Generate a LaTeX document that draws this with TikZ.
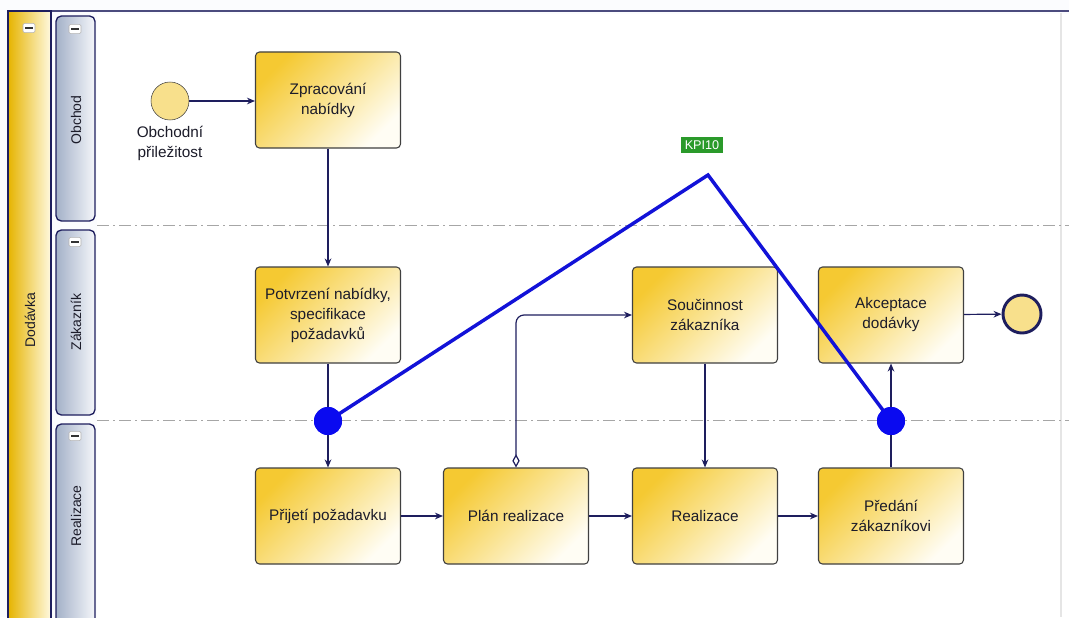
\documentclass[tikz,border=0pt]{standalone}
\usepackage{fontspec}
\setmainfont{Liberation Sans}
\usetikzlibrary{arrows.meta,shapes.geometric}
\definecolor{navy}{HTML}{1E1E5E}
\definecolor{taskgold}{HTML}{F5C932}
\definecolor{taskmid}{HTML}{FAE391}
\definecolor{taskwhite}{HTML}{FFFDF4}
\definecolor{poolgold}{HTML}{E6B400}
\definecolor{poolwhite}{HTML}{FFF9E0}
\definecolor{lanedark}{HTML}{A4B1C8}
\definecolor{lanelight}{HTML}{F4F6FA}
\definecolor{bgc}{HTML}{FBFCFE}
\definecolor{kpiblue}{HTML}{1212D8}
\definecolor{dotblue}{HTML}{0A0AF0}
\definecolor{kpigreen}{HTML}{2A9A2A}
\definecolor{txt}{HTML}{1C1C2A}
\definecolor{evfill}{HTML}{F8E08C}
\begin{document}
\begin{tikzpicture}[x=0.75pt,y=-0.75pt,
  task/.style={rectangle, rounded corners=3pt, draw=black!75, line width=0.8pt,
    minimum width=108.75pt, minimum height=72pt, align=center, inner sep=2pt,
    top color=taskgold, bottom color=taskwhite, middle color=taskmid, shading angle=45,
    font=\fontsize{11.5}{15}\selectfont, text=txt},
  lanehead/.style={draw=navy, line width=1pt, rounded corners=4pt,
    left color=lanedark, right color=lanelight},
  lanetext/.style={rotate=90, font=\fontsize{10.5}{12}\selectfont, text=txt},
  conn/.style={draw=navy, line width=0.9pt},
  arr/.style={conn, -{Stealth[length=6pt,width=5pt]}},
  sep/.style={draw=gray!70, line width=0.6pt, dash pattern=on 9pt off 3pt on 1.5pt off 3pt},
  minus/.style={draw=gray!60, fill=white, rounded corners=1pt, minimum width=9pt, minimum height=7pt, inner sep=0pt,
    path picture={\draw[black!80, line width=1.3pt] ([xshift=-3pt]path picture bounding box.center) -- ([xshift=3pt]path picture bounding box.center);}},
  event/.style={circle, draw=black!75, fill=evfill, minimum size=28.5pt, inner sep=0pt},
  dot/.style={circle, fill=dotblue, minimum size=21pt, inner sep=0pt}
]
\useasboundingbox (0,0) rectangle (1069,617);
\fill[bgc] (0,0) rectangle (1069,617);
\fill[white] (97,14) rectangle (1069,617);
% top border
\draw[navy!80, line width=1.5pt] (8,11) -- (1069,11);
\draw[gray!20, line width=0.8pt] (1061,13) -- (1061,617);
% pool
\draw[navy, line width=1.2pt, left color=poolgold, right color=poolwhite] (8,11) rectangle (51,630);
\node[lanetext] (pooltext) at (30,320) {Dodávka};
\node[minus] (m0) at (29,28) {};
% lane headers
\draw[lanehead] (56,16) rectangle (95,221);
\draw[lanehead] (56,230) rectangle (95,415);
\draw[lanehead] (56,424) rectangle (95,640);
\node[lanetext] (l1) at (76,120) {Obchod};
\node[lanetext] (l2) at (76,322) {Zákazník};
\node[lanetext] (l3) at (76,516) {Realizace};
\node[minus] (m1) at (75,29) {};
\node[minus] (m2) at (75,242) {};
\node[minus] (m3) at (75,436) {};
% separators
\draw[sep] (97,225) -- (1069,225);
\draw[sep] (97,420) -- (1069,420);
% events
\node[event] (start) at (170,101) {};
\node[align=center, font=\fontsize{11.5}{15}\selectfont, text=txt] (startlbl) at (170,143) {Obchodní\\přiležitost};
\node[event, draw=navy, line width=2.2pt] (end) at (1022,314) {};
% tasks
\node[task] (zpr) at (328,100) {Zpracování\\nabídky};
\node[task] (pot) at (328,315) {Potvrzení nabídky,\\specifikace\\požadavků};
\node[task] (pri) at (328,516) {Přijetí požadavku};
\node[task] (pla) at (516,516) {Plán realizace};
\node[task] (sou) at (705,315) {Součinnost\\zákazníka};
\node[task] (rea) at (705,516) {Realizace};
\node[task] (akc) at (891,315) {Akceptace\\dodávky};
\node[task] (pre) at (891,516) {Předání\\zákazníkovi};
% connectors
\draw[arr] (start) -- (zpr.west |- start);
\draw[arr] (zpr) -- (pot);
\draw[arr] (pot) -- (pri);
\draw[arr] (pri) -- (pla);
\draw[arr] (pla) -- (rea);
\draw[arr] (rea) -- (pre);
\draw[conn, rounded corners=6pt, {Diamond[open,length=10pt,width=5.5pt]}-{Stealth[length=6pt,width=5pt]}] (pla.north) |- (sou.west);
\draw[arr] (sou) -- (rea);
\draw[arr] (pre) -- (akc);
\draw[arr] (akc) -- (end);
% KPI
\coordinate (peak) at (708,175);
\node[dot] (d1) at (328,421) {};
\node[dot] (d2) at (891,421) {};
\draw[kpiblue, line width=2.6pt, line join=miter] (d1.center) -- (peak) -- (d2.center);
\node[dot] at (d1) {};
\node[dot] at (d2) {};
\node[fill=kpigreen, text=white, font=\fontsize{9.5}{10}\selectfont, inner xsep=2.5pt, inner ysep=3pt] (kpi) at (702,145) {KPI10};
\end{tikzpicture}
\end{document}
